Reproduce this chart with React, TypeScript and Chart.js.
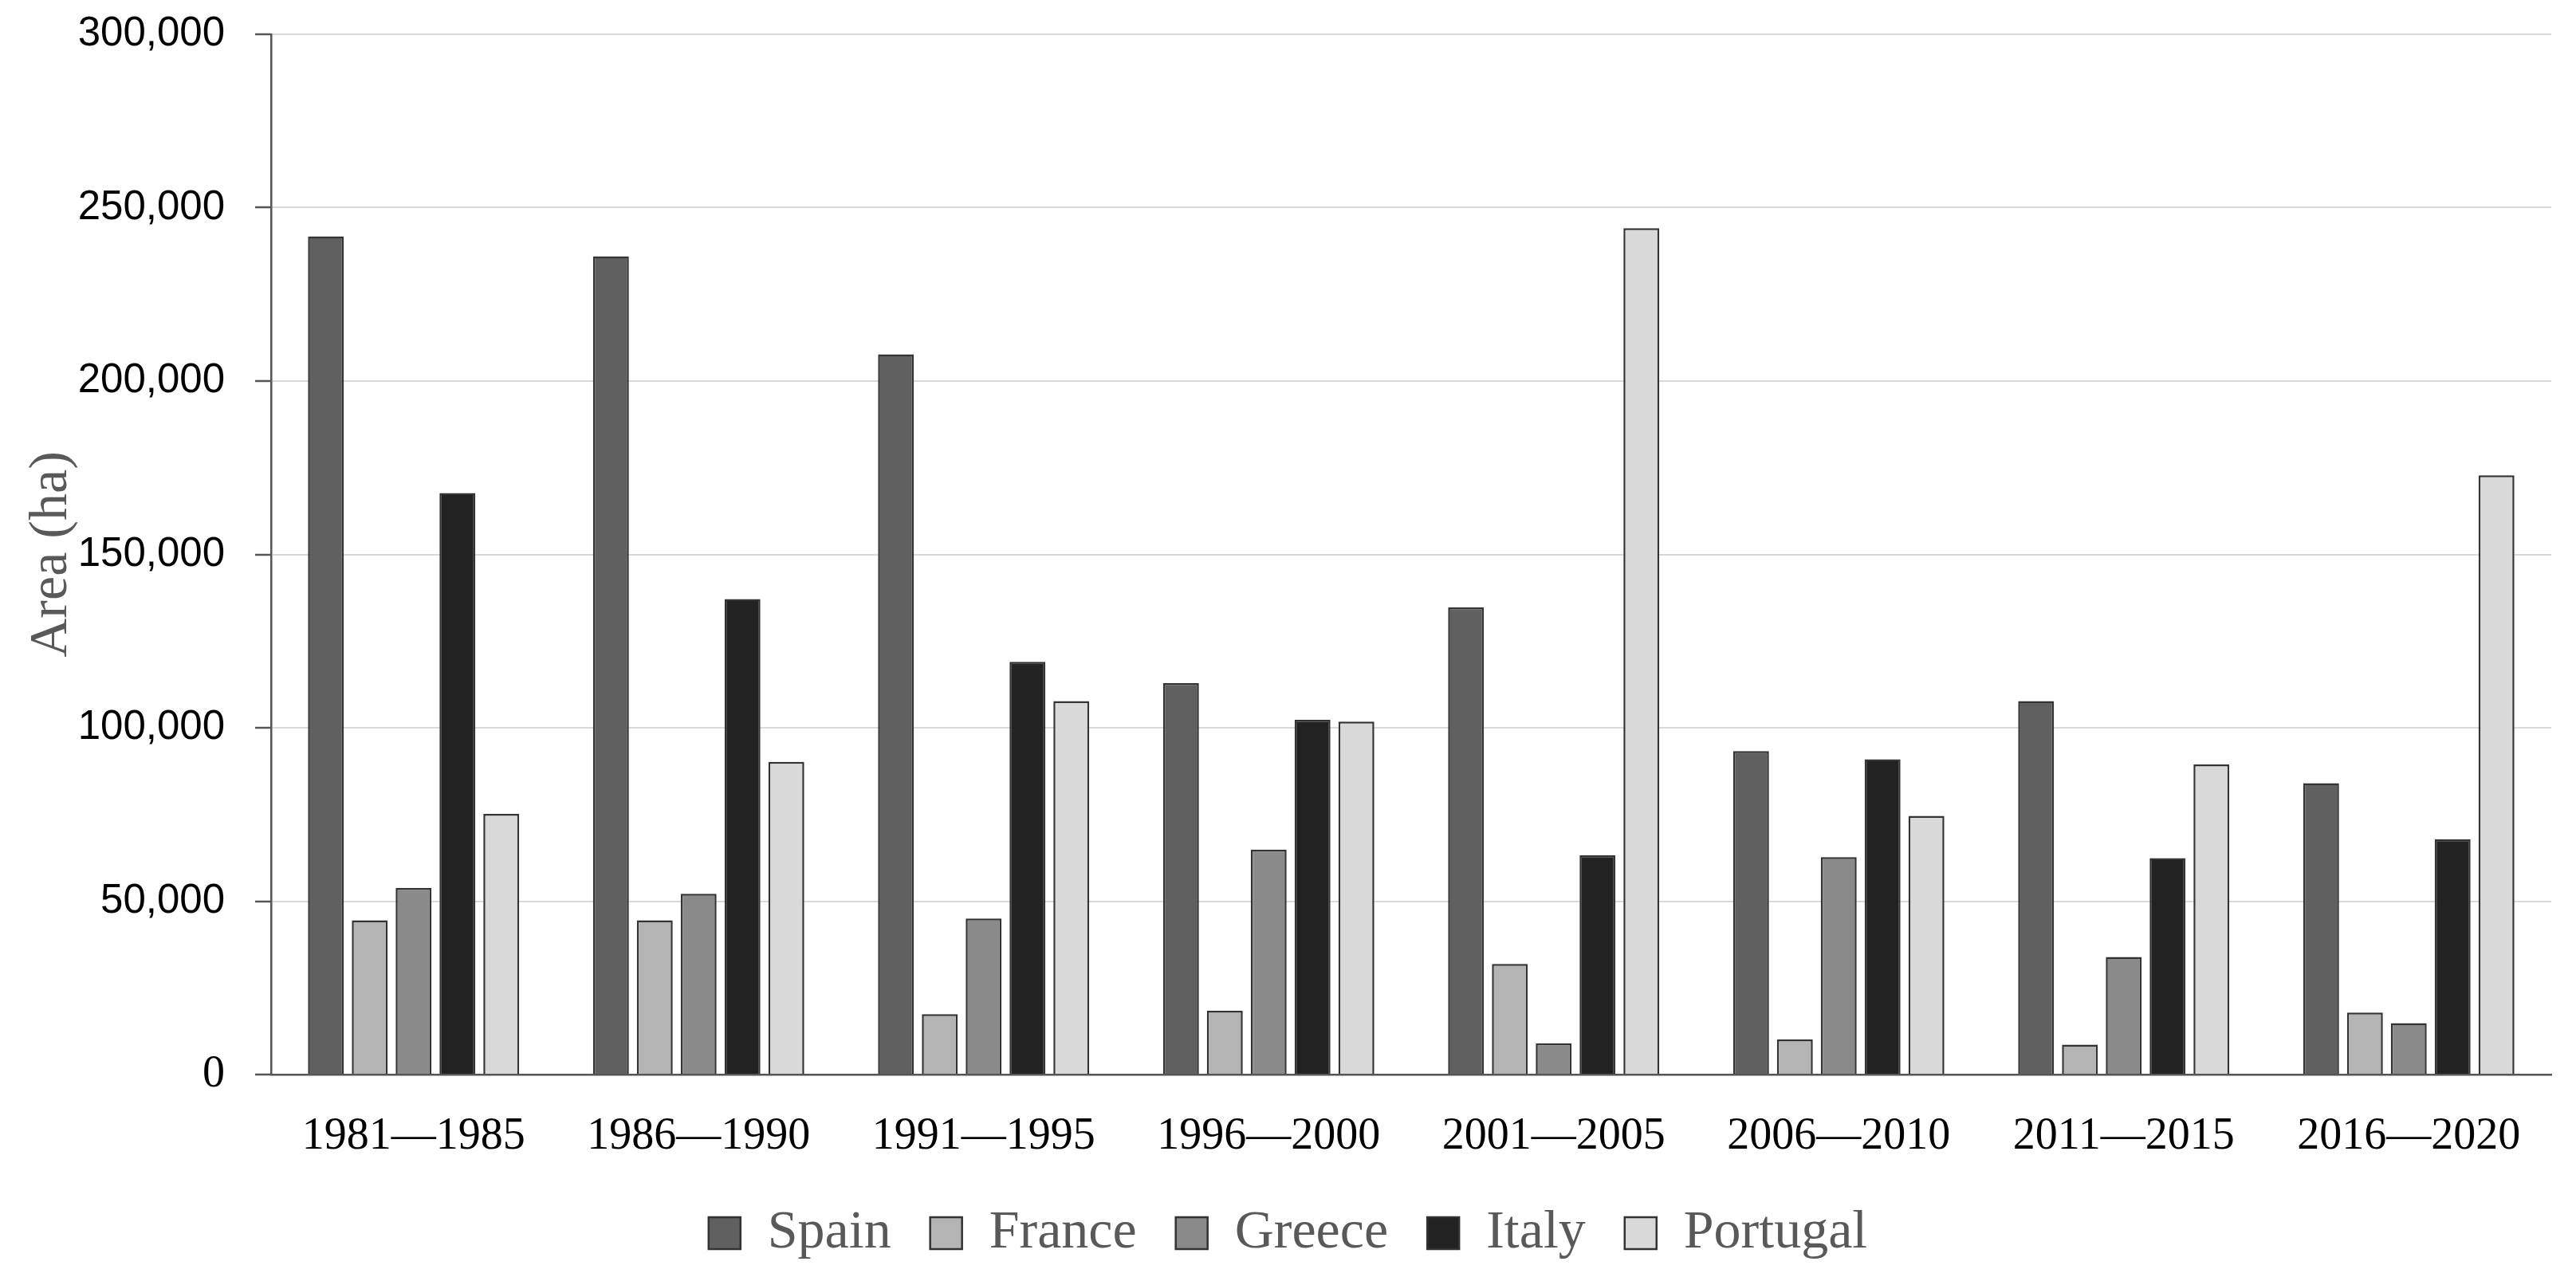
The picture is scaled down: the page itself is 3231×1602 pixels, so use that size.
import React, { useEffect, useRef } from "react";
import { Chart, registerables } from "chart.js";

Chart.register(...registerables);

const categories = [
  "1981\u20141985",
  "1986\u20141990",
  "1991\u20141995",
  "1996\u20142000",
  "2001\u20142005",
  "2006\u20142010",
  "2011\u20142015",
  "2016\u20142020",
];

const spain = [241700, 236000, 207700, 112900, 134700, 93300, 107700, 84000];
const france = [44500, 44500, 17400, 18400, 31900, 10100, 8600, 17900];
const greece = [53800, 52100, 45000, 64800, 9000, 62700, 33900, 14800];
const italy = [167700, 137100, 119000, 102300, 63200, 90900, 62400, 67900];
const portugal = [75200, 90200, 107700, 101800, 244100, 74600, 89400, 172800];

const seriesNames = ["Spain", "France", "Greece", "Italy", "Portugal"];
const seriesColors = ["#606060", "#b4b4b4", "#8a8a8a", "#222222", "#d9d9d9"];

const yMin = 0;
const yMax = 300000;
const yStep = 50000;
const yTitle = "Area (ha)";

export default function App() {
  const ref = useRef<HTMLCanvasElement | null>(null);

  useEffect(() => {
    document.body.style.margin = "0";
    document.body.style.overflow = "hidden";
    const canvas = ref.current;
    if (!canvas) return;
    const values = [spain, france, greece, italy, portugal];
    const chart = new Chart(canvas, {
      type: "bar",
      data: {
        labels: categories,
        datasets: seriesNames.map((name, i) => ({
          label: name,
          data: values[i],
          backgroundColor: seriesColors[i],
          borderColor: "#333333",
          borderWidth: 2.5,
          categoryPercentage: 0.769,
          barPercentage: 0.818,
        })),
      },
      options: {
        responsive: false,
        animation: false,
        devicePixelRatio: 1,
        layout: { padding: { top: 43, right: 31, bottom: 11, left: 31 } },
        plugins: {
          tooltip: { enabled: false },
          legend: {
            position: "bottom",
            align: "center",
            labels: {
              boxWidth: 40,
              boxHeight: 40,
              padding: 49,
              color: "#595959",
              font: { family: "Liberation Serif", size: 68 },
            },
          },
        },
        scales: {
          x: {
            grid: { display: false, drawTicks: false },
            border: { display: true, color: "#555555", width: 2.5 },
            ticks: {
              color: "#000000",
              padding: 45,
              font: { family: "Liberation Serif", size: 56 },
              maxRotation: 0,
              autoSkip: false,
            },
            afterFit: (scale: any) => {
              scale.height = 116;
            },
          },
          y: {
            min: yMin,
            max: yMax,
            grid: {
              color: "#d9d9d9",
              lineWidth: 2,
              drawTicks: true,
              tickLength: 20,
              tickColor: "#555555",
              tickWidth: 2.5,
            },
            border: { display: true, color: "#555555", width: 2.5 },
            ticks: {
              stepSize: yStep,
              padding: 38,
              color: "#000000",
              font: (ctx: any) =>
                ctx.tick && ctx.tick.value === 0
                  ? { family: "Liberation Serif", size: 56 }
                  : { family: "Liberation Sans", size: 51 },
              callback: (v: any) => Number(v).toLocaleString("en-US"),
            },
            title: {
              display: true,
              text: yTitle,
              color: "#595959",
              font: { family: "Liberation Serif", size: 68, lineHeight: 1 },
              padding: { top: 0, bottom: 0 },
            },
            afterFit: (scale: any) => {
              scale.width = 309;
              scale.paddingTop = 0;
              scale.paddingBottom = 0;
            },
          },
        },
      },
    });
    return () => chart.destroy();
  }, []);

  return (
    <div style={{ width: 3231, height: 1602, background: "#ffffff" }}>
      <canvas ref={ref} width={3231} height={1602} style={{ display: "block" }} />
    </div>
  );
}
